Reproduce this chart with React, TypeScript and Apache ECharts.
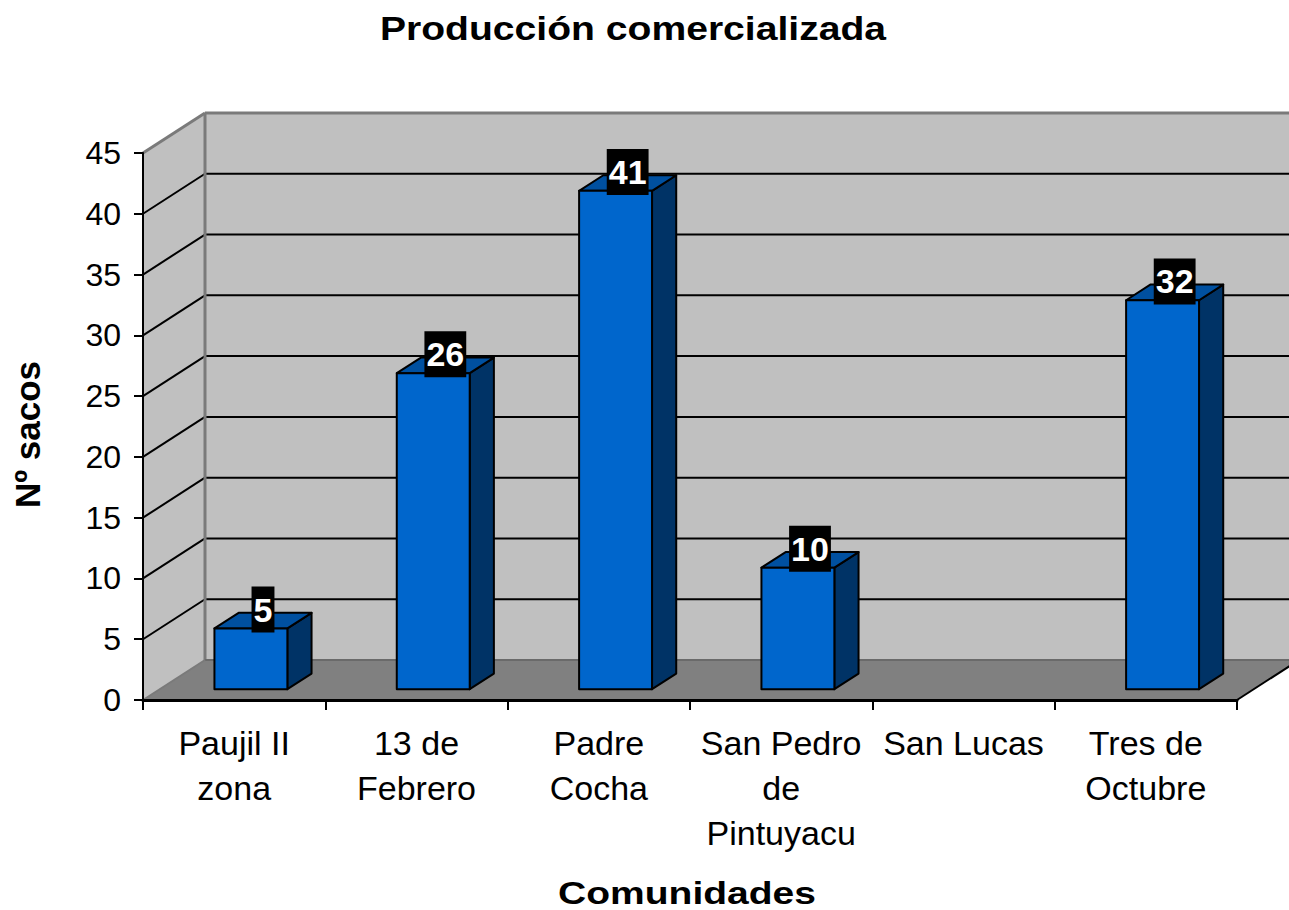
import React, { useEffect, useRef } from 'react';
import * as echarts from 'echarts';

// ---- data ----
const categories = ['Paujil II\nzona', '13 de\nFebrero', 'Padre\nCocha', 'San Pedro\nde\nPintuyacu', 'San Lucas', 'Tres de\nOctubre'];
const sacos: (number | null)[] = [5, 26, 41, 10, null, 32];
const yMin = 0;
const yMax = 45;
const yStep = 5;
const titleText = 'Producción comercializada';
const xTitle = 'Comunidades';
const yTitle = 'Nº sacos';

// ---- 3D look ----
const DEPTH_X = 62;
const DEPTH_Y = -40;
const F_FRONT = 0.27;
const F_BACK = 0.66;
const F_MID = 0.465;
const BAR_RATIO = 0.4;
const FONT = '"Liberation Sans", Arial, Helvetica, sans-serif';

function renderWalls(params: any, api: any) {
  const cs = params.coordSys;
  const x0 = cs.x;
  const x1 = cs.x + cs.width;
  const yB = api.coord([0, yMin])[1];
  const yT = api.coord([0, yMax])[1];
  const dx = DEPTH_X, dy = DEPTH_Y;
  const children: any[] = [];
  children.push({ type: 'polygon', shape: { points: [[x0, yB], [x1, yB], [x1 + dx, yB + dy], [x0 + dx, yB + dy]] }, style: { fill: '#808080' } });
  children.push({ type: 'polygon', shape: { points: [[x0, yB], [x0, yT], [x0 + dx, yT + dy], [x0 + dx, yB + dy]] }, style: { fill: '#C0C0C0' } });
  children.push({ type: 'polygon', shape: { points: [[x0 + dx, yT + dy], [x1 + dx, yT + dy], [x1 + dx, yB + dy], [x0 + dx, yB + dy]] }, style: { fill: '#C0C0C0' } });
  for (let v = yMin + yStep; v < yMax; v += yStep) {
    const y = api.coord([0, v])[1];
    children.push({ type: 'line', shape: { x1: x0 + dx, y1: y + dy, x2: x1 + dx, y2: y + dy }, style: { stroke: '#000', lineWidth: 2 } });
    children.push({ type: 'line', shape: { x1: x0, y1: y, x2: x0 + dx, y2: y + dy }, style: { stroke: '#000', lineWidth: 2 } });
  }
  const gray = '#7a7a7a';
  children.push({ type: 'line', shape: { x1: x0 + dx, y1: yT + dy, x2: x1 + dx, y2: yT + dy }, style: { stroke: gray, lineWidth: 3 } });
  children.push({ type: 'line', shape: { x1: x0, y1: yT, x2: x0 + dx, y2: yT + dy }, style: { stroke: gray, lineWidth: 3 } });
  children.push({ type: 'line', shape: { x1: x0 + dx, y1: yT + dy, x2: x0 + dx, y2: yB + dy }, style: { stroke: gray, lineWidth: 3 } });
  children.push({ type: 'line', shape: { x1: x0 + dx, y1: yB + dy, x2: x1 + dx, y2: yB + dy }, style: { stroke: '#6a6a6a', lineWidth: 2 } });
  children.push({ type: 'line', shape: { x1: x0, y1: yB, x2: x0 + dx, y2: yB + dy }, style: { stroke: gray, lineWidth: 2 } });
  children.push({ type: 'line', shape: { x1: x1, y1: yB, x2: x1 + dx, y2: yB + dy }, style: { stroke: '#000', lineWidth: 2 } });
  return { type: 'group', children };
}

function renderBar(params: any, api: any) {
  const v = api.value(1);
  if (v == null || isNaN(v)) return;
  const idx = api.value(0);
  const top = api.coord([idx, v]);
  const base = api.coord([idx, yMin]);
  const band = api.size([1, 0])[0];
  const w = band * BAR_RATIO;
  const L = top[0] - w / 2;
  const R = top[0] + w / 2;
  const yT = top[1];
  const yB = base[1];
  const fx = DEPTH_X * F_FRONT, fy = DEPTH_Y * F_FRONT;
  const bx = DEPTH_X * F_BACK, by = DEPTH_Y * F_BACK;
  const stroke = { stroke: '#000', lineWidth: 2, lineJoin: 'round' };
  return {
    type: 'group',
    children: [
      { type: 'polygon', shape: { points: [[R + fx, yT + fy], [R + bx, yT + by], [R + bx, yB + by], [R + fx, yB + fy]] }, style: { fill: '#003366', ...stroke } },
      { type: 'polygon', shape: { points: [[L + fx, yT + fy], [R + fx, yT + fy], [R + bx, yT + by], [L + bx, yT + by]] }, style: { fill: '#0050A0', ...stroke } },
      { type: 'polygon', shape: { points: [[L + fx, yT + fy], [R + fx, yT + fy], [R + fx, yB + fy], [L + fx, yB + fy]] }, style: { fill: '#0066CC', ...stroke } },
      {
        type: 'text',
        x: top[0] + DEPTH_X * F_MID,
        y: yT + DEPTH_Y * F_MID - 11,
        style: {
          text: String(v),
          fill: '#fff',
          font: `bold 34px ${FONT}`,
          align: 'center',
          verticalAlign: 'middle',
          backgroundColor: '#000',
          padding: [7, 2, 5, 2],
        },
      },
    ],
  };
}

export default function App() {
  const ref = useRef<HTMLDivElement>(null);
  useEffect(() => {
    if (!ref.current) return;
    const chart = echarts.init(ref.current, undefined, { renderer: 'svg' });
    chart.setOption({
      animation: false,
      backgroundColor: '#fff',
      grid: { left: 143, top: 153, width: 1094, height: 547, containLabel: false },
      xAxis: {
        type: 'category',
        data: categories,
        z: 10,
        axisLine: { show: true, lineStyle: { color: '#000', width: 3 } },
        axisTick: { show: true, length: 10, lineStyle: { color: '#000', width: 2 } },
        axisLabel: { interval: 0, fontSize: 34, lineHeight: 45, color: '#000', margin: 20, fontFamily: FONT },
        splitLine: { show: false },
      },
      yAxis: {
        type: 'value',
        min: yMin,
        max: yMax,
        interval: yStep,
        z: 10,
        name: yTitle,
        nameLocation: 'middle',
        nameRotate: 90,
        nameGap: 98,
        nameTextStyle: { fontSize: 35, fontWeight: 'bold', color: '#000', fontFamily: FONT, padding: [0, 0, 0, -16] },
        axisLine: { show: true, lineStyle: { color: '#000', width: 2 } },
        axisTick: { show: true, length: 9, lineStyle: { color: '#000', width: 2 } },
        axisLabel: { fontSize: 32, color: '#000', margin: 22, fontFamily: FONT },
        splitLine: { show: false },
      },
      graphic: [
        {
          type: 'text', x: 633, y: 28, scaleX: 1.15, z: 20,
          style: { text: titleText, font: `bold 34px ${FONT}`, fill: '#000', align: 'center', verticalAlign: 'middle' },
        },
        {
          type: 'text', x: 687, y: 893, scaleX: 1.22, z: 20,
          style: { text: xTitle, font: `bold 32px ${FONT}`, fill: '#000', align: 'center', verticalAlign: 'middle' },
        },
      ],
      series: [
        { type: 'custom', name: 'walls', z: 1, silent: true, clip: false, renderItem: renderWalls, data: [[0, 0]] },
        {
          type: 'custom', name: yTitle, z: 2, clip: false, renderItem: renderBar,
          encode: { x: 0, y: 1 },
          data: sacos.map((v, i) => [i, v == null ? '-' : v]),
        },
      ],
    });
    return () => chart.dispose();
  }, []);
  return <div ref={ref} style={{ position: 'fixed', left: 0, top: 0, width: 1289, height: 910, background: '#fff' }} />;
}
